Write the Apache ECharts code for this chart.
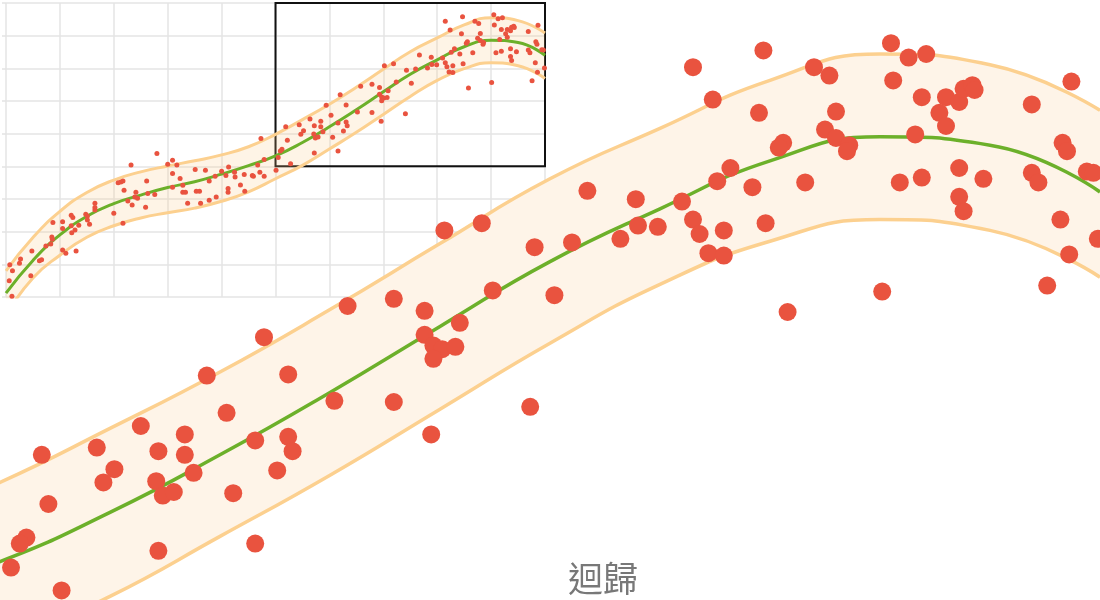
<!DOCTYPE html>
<html>
<head>
<meta charset="utf-8">
<script src="https://cdn.jsdelivr.net/npm/echarts@6/dist/echarts.min.js"></script>
<style>
html,body{margin:0;padding:0;background:#fff;}
#c{width:1100px;height:600px;}
</style>
</head>
<body>
<div id="c"></div>
<script>
// ---------------- data ----------------
const titleText = '迴歸';

// zoom window shown in the main view (also the black rectangle in the inset)
const zoomX = [5, 10];
const zoomY = [4, 9];
// full range of the inset
const fullX = [0, 10];
const fullY = [0, 9];

// regression curve samples
const regX   = ['0','0.5','1','1.5','2','2.5','3','3.5','4','4.5','5','5.5','6','6.5','7','7.5','8','8.5','9','9.5','10'];
const fitY   = [0.12, 1.12, 1.90, 2.47, 2.86, 3.12, 3.35, 3.53, 3.76, 4.02, 4.32, 4.73, 5.21, 5.73, 6.28, 6.82, 7.26, 7.66, 7.86, 7.79, 7.40];
const upperY = [0.80, 1.82, 2.62, 3.20, 3.58, 3.83, 4.01, 4.17, 4.35, 4.60, 4.98, 5.43, 5.90, 6.42, 6.97, 7.51, 7.93, 8.33, 8.55, 8.46, 8.08];
const lowerY = [-0.55, 0.58, 1.28, 1.83, 2.18, 2.42, 2.58, 2.72, 2.93, 3.22, 3.62, 4.03, 4.53, 5.04, 5.59, 6.14, 6.63, 6.99, 7.17, 7.08, 6.69];

// observations [x, y]
const points = [
  [8.15,8.44],[8.47,8.58],[8.70,8.44],[8.77,8.37],[9.05,8.64],[9.13,8.52],[9.21,8.55],[9.06,8.33],[9.87,8.32],
  [8.24,8.17],[8.45,8.06],[8.80,8.07],[9.19,8.19],[9.30,8.19],[9.36,8.15],[9.38,8.26],[9.42,8.29],[9.43,8.25],
  [9.27,8.06],[9.30,7.95],[9.69,8.13],[8.75,7.92],[8.80,7.85],[8.86,7.79],[8.85,7.74],[9.16,7.88],[8.56,7.81],
  [8.54,7.77],[9.83,7.81],[9.85,7.74],[8.32,7.60],[8.26,7.49],[8.42,7.44],[8.66,7.48],[9.09,7.48],[9.19,7.52],
  [9.36,7.60],[9.47,7.51],[9.69,7.56],[9.72,7.48],[9.94,7.57],[9.97,7.56],[9.36,7.36],[9.38,7.24],[7.67,7.41],
  [7.89,7.34],[8.10,7.32],[8.15,7.17],[8.18,7.05],[8.29,7.08],[8.48,7.14],[7.90,7.12],[7.99,7.11],[7.82,7.01],
  [7.60,6.98],[7.43,6.94],[8.22,6.89],[8.29,6.87],[9.82,7.17],[9.86,6.88],[9.99,7.01],[9.76,6.62],[9.01,6.57],
  [8.58,6.40],[7.02,7.08],[7.19,7.14],[7.24,6.58],[7.52,6.54],[6.58,6.45],[6.79,6.51],[6.93,6.41],[7.09,6.31],
  [6.93,6.21],[6.97,6.12],[7.01,6.09],[7.07,6.11],[6.97,6.01],[6.20,6.19],[6.31,5.88],[5.94,5.87],[6.52,5.66],
  [6.79,5.65],[7.41,5.61],[6.96,5.38],[6.03,5.56],[5.64,5.45],[5.84,5.38],[6.16,5.33],[6.31,5.36],[6.33,5.24],
  [5.72,5.24],[5.84,5.21],[5.44,5.27],[5.19,5.21],[5.52,5.09],[5.47,4.98],[5.88,5.06],[6.26,5.08],[5.71,4.99],
  [5.74,4.87],[5.79,4.90],[6.06,4.89],[5.22,4.80],[5.12,4.52],[5.09,4.47],[5.05,4.27],[5.72,4.41],[6.16,4.47],
  [5.28,4.08],
  [0.07,0.99],[0.12,0.80],[0.27,1.16],[0.25,1.03],[0.06,0.50],[0.11,0.02],[0.46,0.65],[0.48,1.41],[0.62,1.11],
  [0.66,1.14],[0.74,1.56],[0.83,1.62],[0.85,1.84],[0.86,1.77],[0.87,2.28],[1.05,2.30],[1.05,2.10],[1.05,1.44],
  [1.11,1.34],[1.21,2.18],[1.21,2.50],[1.24,2.43],[1.22,1.97],[1.28,2.05],[1.30,1.41],[1.35,2.20],[1.48,2.53],
  [1.51,2.48],[1.51,2.36],[1.55,2.23],[1.65,2.87],[1.65,2.74],[1.65,2.66],[2.00,2.56],[2.17,2.26],[2.08,3.50],
  [2.13,3.52],[2.17,3.55],[2.19,3.27],[2.26,2.94],[2.32,4.04],[2.34,2.82],[2.39,3.06],[2.41,3.21],[2.44,3.02],
  [2.59,2.75],[2.61,3.55],[2.63,3.17],[2.76,3.14],[2.80,4.39],[3.00,4.06],[3.09,4.19],[3.17,4.04],[3.09,3.78],
  [3.09,3.36],[3.23,3.63],[3.28,3.42],[3.28,3.21],[3.33,3.21],[3.37,2.87],[3.51,3.90],[3.53,3.24],[3.59,3.24],
  [3.61,2.87],[3.70,3.88],[3.77,3.55],[3.77,2.96],[3.88,3.70],[3.90,3.06],[4.00,3.85],[4.08,3.72],[4.13,3.98],
  [4.12,3.32],[4.12,3.21],[4.24,3.82],[4.25,3.67],[4.35,3.43],[4.42,3.75],[4.43,3.24],[4.57,3.72],[4.59,3.70],
  [4.67,4.04],[4.71,3.82],[4.73,4.85],[4.79,4.21],[4.79,3.70],[5.01,3.88]
];

// ---------------- styles ----------------
const RED = '#e9533f';
const GREEN = '#6cb02a';
const BAND_LINE = '#fcd08f';
const BAND_FILL_MAIN = '#fef4e8';
const BAND_FILL_INSET = 'rgba(252,200,130,0.2)';
const GRID_COLOR = '#e4e4e4';

const bandDiff = upperY.map((u, i) => +(u - lowerY[i]).toFixed(4));

function regressionSeries(key, xi, yi, fill, lw) {
  return [
    { type: 'line', xAxisIndex: xi, yAxisIndex: yi, data: lowerY, stack: key, stackStrategy: 'all',
      smooth: true, symbol: 'none', silent: true,
      lineStyle: { color: BAND_LINE, width: lw }, z: 3 },
    { type: 'line', xAxisIndex: xi, yAxisIndex: yi, data: bandDiff, stack: key, stackStrategy: 'all',
      smooth: true, symbol: 'none', silent: true,
      lineStyle: { color: BAND_LINE, width: lw },
      areaStyle: { color: fill, opacity: 1 }, z: 2 },
    { type: 'line', xAxisIndex: xi, yAxisIndex: yi, data: fitY,
      smooth: true, symbol: 'none', silent: true,
      lineStyle: { color: GREEN, width: lw }, z: 4 }
  ];
}

const chart = echarts.init(document.getElementById('c'), null, { renderer: 'canvas' });
chart.setOption({
  animation: false,
  backgroundColor: '#fff',
  title: {
    text: titleText,
    left: 568, top: 561, padding: 0,
    textStyle: { fontSize: 35, fontWeight: 'normal', color: '#787878', fontFamily: 'Noto Sans CJK TC' }
  },
  grid: [
    { left: 0, right: 0, top: 0, bottom: 0 },
    { left: 6, top: 3, width: 539, height: 294 }
  ],
  xAxis: [
    { type: 'value', gridIndex: 0, min: zoomX[0], max: zoomX[1], show: false },
    { type: 'category', gridIndex: 0, data: regX, boundaryGap: false,
      min: regX.indexOf(String(zoomX[0])), max: regX.indexOf(String(zoomX[1])), show: false },
    { type: 'value', gridIndex: 1, min: fullX[0], max: fullX[1], interval: 1,
      axisLine: { show: false }, axisTick: { show: false }, axisLabel: { show: false },
      splitLine: { show: true, lineStyle: { color: GRID_COLOR, width: 1.5 } } },
    { type: 'category', gridIndex: 1, data: regX, boundaryGap: false, show: false }
  ],
  yAxis: [
    { type: 'value', gridIndex: 0, min: zoomY[0], max: zoomY[1], show: false },
    { type: 'value', gridIndex: 1, min: fullY[0], max: fullY[1], interval: 1,
      axisLine: { show: false },
      axisTick: { show: true, length: 4, lineStyle: { color: GRID_COLOR, width: 1.5 } },
      axisLabel: { show: false },
      splitLine: { show: true, lineStyle: { color: GRID_COLOR, width: 1.5 } } }
  ],
  series: [
    ...regressionSeries('main', 1, 0, BAND_FILL_MAIN, 3.5),
    { type: 'scatter', xAxisIndex: 0, yAxisIndex: 0, data: points, symbolSize: 18, silent: true,
      itemStyle: { color: RED, opacity: 1 }, z: 5 },
    ...regressionSeries('inset', 3, 1, BAND_FILL_INSET, 3),
    { type: 'scatter', xAxisIndex: 2, yAxisIndex: 1, data: points, symbolSize: 5, silent: true,
      itemStyle: { color: RED, opacity: 1 }, z: 5,
      markArea: {
        silent: true,
        itemStyle: { color: 'rgba(0,0,0,0)', borderColor: '#111', borderWidth: 2 },
        data: [[ { coord: [zoomX[0], zoomY[0]] }, { coord: [zoomX[1], zoomY[1]] } ]]
      } }
  ]
});
</script>
</body>
</html>
